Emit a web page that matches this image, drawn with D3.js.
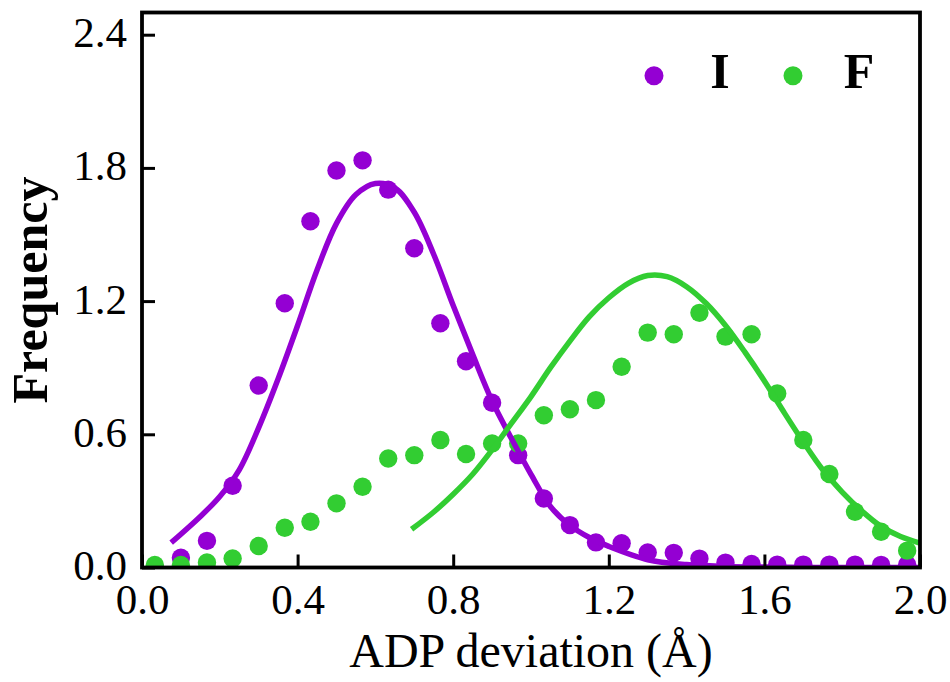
<!DOCTYPE html>
<html>
<head>
<meta charset="utf-8">
<script src="https://cdn.jsdelivr.net/npm/d3@7"></script>
<style>
  body { margin: 0; background: #fff; }
  text { font-family: "Liberation Serif", "Times New Roman", serif; fill: #000; }
</style>
</head>
<body>
<div id="chart"></div>
<script>
/* Bin centres and measured frequencies */
var binCentres = [0.033, 0.1, 0.167, 0.233, 0.3, 0.367, 0.433, 0.5, 0.567, 0.633,
                  0.7, 0.767, 0.833, 0.9, 0.967, 1.033, 1.1, 1.167, 1.233, 1.3,
                  1.367, 1.433, 1.5, 1.567, 1.633, 1.7, 1.767, 1.833, 1.9, 1.967];

var freqI = [0.0, 0.044, 0.12, 0.368, 0.82, 1.19, 1.56, 1.788, 1.834, 1.702,
             1.438, 1.10, 0.929, 0.742, 0.506, 0.311, 0.191, 0.113, 0.109, 0.068,
             0.066, 0.040, 0.022, 0.016, 0.013, 0.013, 0.013, 0.013, 0.012, 0.012];

var freqF = [0.011, 0.011, 0.023, 0.041, 0.097, 0.179, 0.206, 0.289, 0.364, 0.491,
             0.506, 0.574, 0.511, 0.559, 0.559, 0.686, 0.713, 0.754, 0.904, 1.058,
             1.051, 1.147, 1.040, 1.051, 0.784, 0.574, 0.421, 0.251, 0.161, 0.076];

/* Fitted curves */
var fitIx = [0.075, 0.15, 0.2, 0.25, 0.3, 0.35, 0.4, 0.45, 0.5, 0.55, 0.6, 0.65, 0.7,
             0.75, 0.8, 0.85, 0.9, 0.95, 1.0, 1.05, 1.1, 1.15, 1.2, 1.3, 1.4, 1.5,
             1.6, 1.8, 2.0];
var fitIy = [0.112, 0.23, 0.32, 0.44, 0.63, 0.85, 1.09, 1.34, 1.55, 1.68, 1.73, 1.71, 1.60,
             1.41, 1.18, 0.96, 0.75, 0.58, 0.42, 0.275, 0.19, 0.135, 0.095, 0.035, 0.013, 0.005,
             0.002, 0.0, 0.0];

var fitFx = [0.693, 0.75, 0.8, 0.85, 0.9, 0.95, 1.0, 1.05, 1.1, 1.15, 1.2, 1.25, 1.3,
             1.35, 1.4, 1.45, 1.5, 1.55, 1.6, 1.65, 1.7, 1.75, 1.8, 1.85, 1.9, 1.95, 2.0];
var fitFy = [0.172, 0.25, 0.33, 0.42, 0.53, 0.65, 0.77, 0.90, 1.02, 1.13, 1.215, 1.28, 1.315,
             1.31, 1.265, 1.19, 1.09, 0.97, 0.84, 0.70, 0.565, 0.44, 0.34, 0.255, 0.185, 0.14, 0.11];

var xTicks = [0.0, 0.4, 0.8, 1.2, 1.6, 2.0];
var yTicks = [0.0, 0.6, 1.2, 1.8, 2.4];
var seriesNames = ["I", "F"];
var seriesColors = ["#9400d3", "#32cd32"];

/* Size and margins */
var width = 950, height = 682;
var margin = {top: 12.5, right: 30, bottom: 114.5, left: 142};
var plotW = width - margin.left - margin.right,
    plotH = height - margin.top - margin.bottom;

var svg = d3.select("#chart").append("svg")
    .attr("width", width)
    .attr("height", height);

var x = d3.scaleLinear().domain([0, 2.0]).range([0, plotW]);
var y = d3.scaleLinear().domain([0, 2.5]).range([plotH, 0]);

var g = svg.append("g")
    .attr("transform", "translate(" + margin.left + "," + margin.top + ")");

g.append("clipPath").attr("id", "plotclip")
  .append("rect")
    .attr("width", plotW)
    .attr("height", plotH);

var inner = g.append("g").attr("clip-path", "url(#plotclip)");

/* Scatter points */
var seriesData = [freqI, freqF];
seriesData.forEach(function(vals, k) {
    inner.append("g")
      .selectAll("circle")
      .data(binCentres.map(function(c, i) { return [c, vals[i]]; }))
      .enter().append("circle")
        .attr("cx", function(d) { return x(d[0]); })
        .attr("cy", function(d) { return y(d[1]); })
        .attr("r", 9.2)
        .attr("fill", seriesColors[k]);
});

/* Fit lines */
var line = d3.line()
    .x(function(d) { return x(d[0]); })
    .y(function(d) { return y(d[1]); })
    .curve(d3.curveCatmullRom.alpha(0.5));

var fits = [[fitIx, fitIy], [fitFx, fitFy]];
fits.forEach(function(f, k) {
    inner.append("path")
      .datum(f[0].map(function(v, i) { return [v, f[1][i]]; }))
      .attr("fill", "none")
      .attr("stroke", seriesColors[k])
      .attr("stroke-width", 5.5)
      .attr("d", line);
});

/* Axes: inward ticks on left and bottom */
var xAxis = g.append("g")
    .attr("transform", "translate(0," + plotH + ")")
    .call(d3.axisBottom(x).tickValues(xTicks).tickSize(-13).tickPadding(0)
          .tickFormat(d3.format(".1f")));
xAxis.select(".domain").remove();
xAxis.selectAll(".tick line").attr("stroke", "#000").attr("stroke-width", 3);
xAxis.selectAll(".tick text")
    .attr("y", 46)
    .attr("dy", null)
    .attr("font-size", "43px")
    .attr("font-family", null);

var yAxis = g.append("g")
    .call(d3.axisLeft(y).tickValues(yTicks).tickSize(-13).tickPadding(0)
          .tickFormat(d3.format(".1f")));
yAxis.select(".domain").remove();
yAxis.selectAll(".tick line").attr("stroke", "#000").attr("stroke-width", 3);
yAxis.selectAll(".tick text")
    .attr("x", -15)
    .attr("dy", "12px")
    .attr("font-size", "43px")
    .attr("font-family", null);

/* Frame */
g.append("rect")
    .attr("width", plotW)
    .attr("height", plotH)
    .attr("fill", "none")
    .attr("stroke", "#000")
    .attr("stroke-width", 3.8);

/* Axis titles */
svg.append("text")
    .attr("x", margin.left + plotW / 2)
    .attr("y", 667)
    .attr("text-anchor", "middle")
    .attr("font-size", "48px")
    .text("ADP deviation (\u00c5)");

svg.append("text")
    .attr("transform", "translate(47," + (margin.top + plotH / 2) + ") rotate(-90)")
    .attr("text-anchor", "middle")
    .attr("font-size", "50px")
    .attr("font-weight", "bold")
    .text("Frequency");

/* Legend */
var legendX = [654, 793];
var legend = svg.append("g");
seriesNames.forEach(function(name, k) {
    legend.append("circle")
        .attr("cx", legendX[k])
        .attr("cy", 75.7)
        .attr("r", 9.5)
        .attr("fill", seriesColors[k]);
    legend.append("text")
        .attr("x", legendX[k] + 66)
        .attr("y", 88)
        .attr("text-anchor", "middle")
        .attr("font-size", "50px")
        .attr("font-weight", "bold")
        .text(name);
});
</script>
</body>
</html>
